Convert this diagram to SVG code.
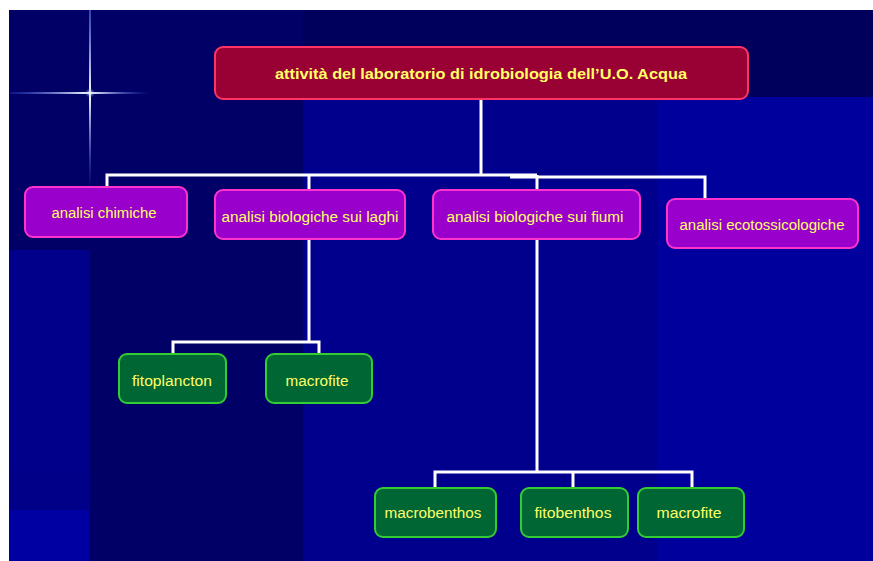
<svg xmlns="http://www.w3.org/2000/svg" width="873" height="561" viewBox="0 0 873 561">
  <defs>
    <linearGradient id="vflare" x1="0" y1="0" x2="0" y2="1">
      <stop offset="0" stop-color="#6688ff" stop-opacity="0.5"/>
      <stop offset="0.47" stop-color="#ffffff" stop-opacity="1"/>
      <stop offset="1" stop-color="#4466ff" stop-opacity="0"/>
    </linearGradient>
    <linearGradient id="hflare" x1="0" y1="0" x2="1" y2="0">
      <stop offset="0" stop-color="#4466ff" stop-opacity="0.2"/>
      <stop offset="0.57" stop-color="#ffffff" stop-opacity="1"/>
      <stop offset="1" stop-color="#4466ff" stop-opacity="0"/>
    </linearGradient>
    <radialGradient id="glow">
      <stop offset="0" stop-color="#ffffff" stop-opacity="0.9"/>
      <stop offset="1" stop-color="#6688ff" stop-opacity="0"/>
    </radialGradient>
  </defs>
  <style>
    .main { fill: #990033; stroke: #ff3366; stroke-width: 2; }
    .l1 { fill: #9900cc; stroke: #ff33cc; stroke-width: 2; }
    .l2 { fill: #006633; stroke: #33cc33; stroke-width: 2; }
    .t { font-family: "Liberation Sans", Arial, sans-serif; fill: #ffff66; text-anchor: middle; dominant-baseline: central; font-size: 14px; }
    .tb { font-weight: bold; font-size: 15px; }
    .c { fill: none; stroke: #ffffff; stroke-width: 3; }
  </style>

  <!-- background -->
  <rect x="0" y="0" width="873" height="561" fill="#ffffff"/>
  <rect x="9" y="10" width="864" height="551" fill="#000066"/>
  <rect x="303" y="10" width="570" height="87" fill="#00005c"/>
  <rect x="303" y="97" width="354" height="464" fill="#00008c"/>
  <rect x="657" y="97" width="216" height="464" fill="#00009c"/>
  <rect x="9" y="250" width="81" height="220" fill="#00008a"/>
  <rect x="9" y="470" width="81" height="40" fill="#000088"/>
  <rect x="9" y="510" width="81" height="51" fill="#0000a2"/>

  <!-- flare -->
  <rect x="89" y="10" width="2" height="180" fill="url(#vflare)"/>
  <rect x="10" y="92" width="140" height="2" fill="url(#hflare)"/>
  <circle cx="90" cy="93" r="5" fill="url(#glow)"/>

  <!-- connectors -->
  <g id="connectors">
    <polyline class="c" points="481,99 481,175"/>
    <polyline class="c" points="107,187 107,175 537,175"/>
    <polyline class="c" points="309,175 309,190"/>
    <polyline class="c" points="537,175 537,190"/>
    <polyline class="c" points="510,177 705,177 705,199"/>
    <polyline class="c" points="309,239 309,342"/>
    <polyline class="c" points="173,354 173,342 319,342 319,354"/>
    <polyline class="c" points="537,239 537,472"/>
    <polyline class="c" points="435,488 435,472 692,472 692,488"/>
    <polyline class="c" points="573,472 573,488"/>
  </g>

  <g id="root">
    <rect class="main" x="215" y="47" width="533" height="52" rx="8"/>
    <text class="t tb" x="481" y="73" textLength="412" lengthAdjust="spacingAndGlyphs">attività del laboratorio di idrobiologia dell’U.O. Acqua</text>
  </g>

  <g id="chimiche">
    <rect class="l1" x="25" y="187" width="162" height="50" rx="8"/>
    <text class="t" x="104" y="213" textLength="105" lengthAdjust="spacingAndGlyphs">analisi chimiche</text>
  </g>
  <g id="laghi">
    <rect class="l1" x="215" y="190" width="190" height="49" rx="8"/>
    <text class="t" x="310" y="217" textLength="177" lengthAdjust="spacingAndGlyphs">analisi biologiche sui laghi</text>
  </g>
  <g id="fiumi">
    <rect class="l1" x="433" y="190" width="207" height="49" rx="8"/>
    <text class="t" x="535" y="217" textLength="177" lengthAdjust="spacingAndGlyphs">analisi biologiche sui fiumi</text>
  </g>
  <g id="ecotossicologiche">
    <rect class="l1" x="667" y="199" width="191" height="49" rx="8"/>
    <text class="t" x="762" y="225" textLength="165" lengthAdjust="spacingAndGlyphs">analisi ecotossicologiche</text>
  </g>

  <g id="fitoplancton">
    <rect class="l2" x="119" y="354" width="107" height="49" rx="8"/>
    <text class="t" x="172" y="381" textLength="80" lengthAdjust="spacingAndGlyphs">fitoplancton</text>
  </g>
  <g id="macrofite-laghi">
    <rect class="l2" x="266" y="354" width="106" height="49" rx="8"/>
    <text class="t" x="317" y="381" textLength="63" lengthAdjust="spacingAndGlyphs">macrofite</text>
  </g>

  <g id="macrobenthos">
    <rect class="l2" x="375" y="488" width="121" height="49" rx="8"/>
    <text class="t" x="433" y="513" textLength="97" lengthAdjust="spacingAndGlyphs">macrobenthos</text>
  </g>
  <g id="fitobenthos">
    <rect class="l2" x="521" y="488" width="107" height="49" rx="8"/>
    <text class="t" x="573" y="513" textLength="77" lengthAdjust="spacingAndGlyphs">fitobenthos</text>
  </g>
  <g id="macrofite-fiumi">
    <rect class="l2" x="638" y="488" width="106" height="49" rx="8"/>
    <text class="t" x="689" y="513" textLength="65" lengthAdjust="spacingAndGlyphs">macrofite</text>
  </g>
</svg>
